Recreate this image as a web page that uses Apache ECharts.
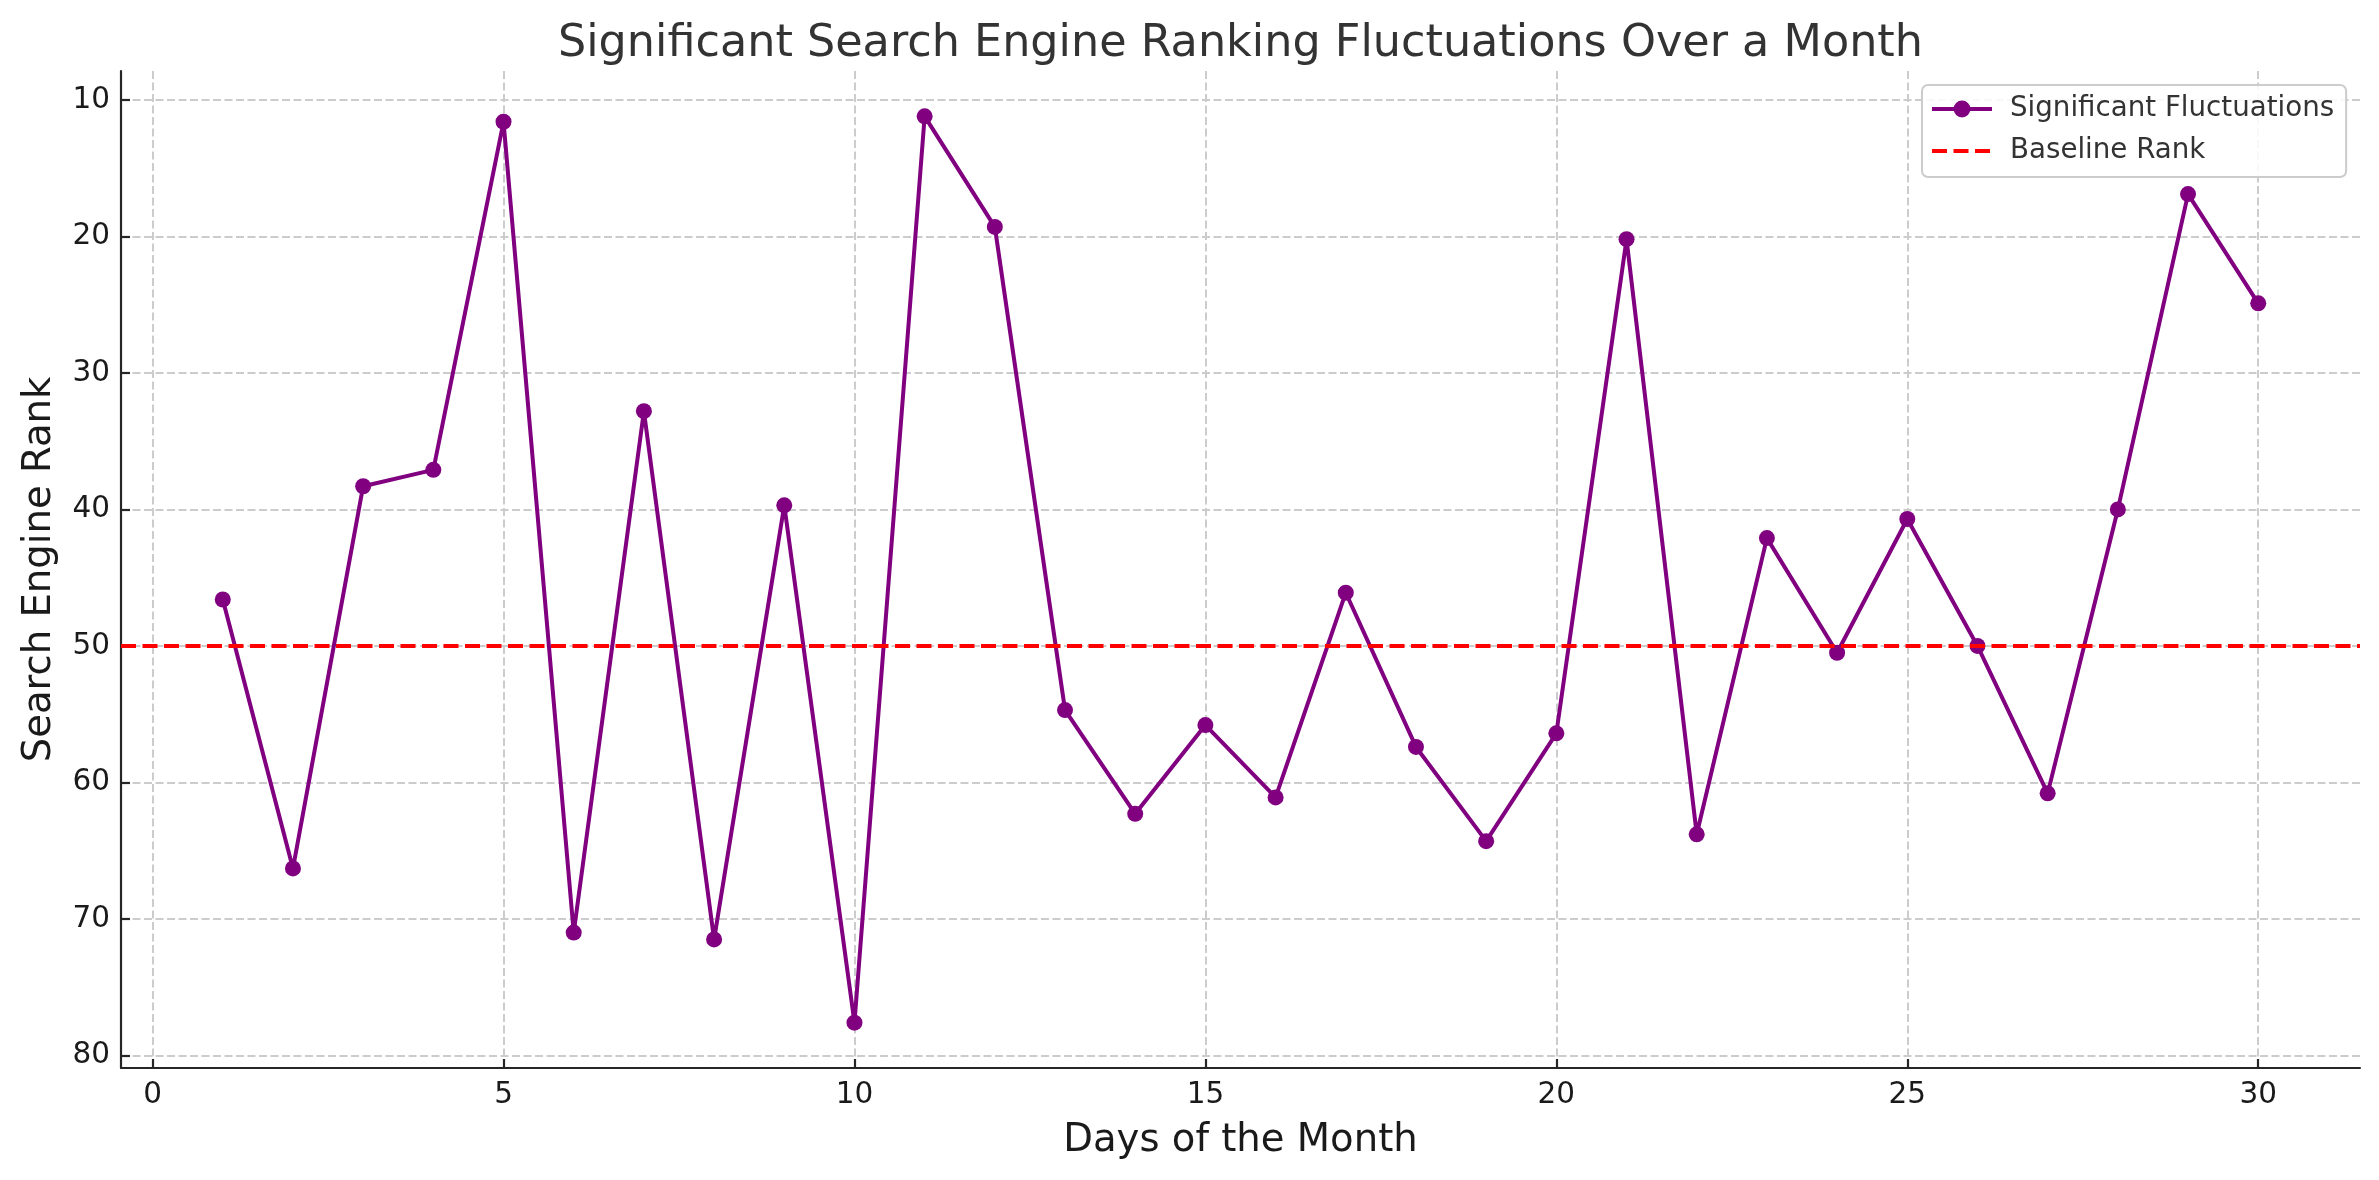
<!DOCTYPE html>
<html>
<head>
<meta charset="utf-8">
<script src="https://cdn.jsdelivr.net/npm/echarts@6/dist/echarts.min.js"></script>
<style>
html,body{margin:0;padding:0;background:#fff;}
#chart{width:2379px;height:1180px;}
</style>
</head>
<body>
<div id="chart"></div>
<script>
// ---- data ----
const days = [1,2,3,4,5,6,7,8,9,10,11,12,13,14,15,16,17,18,19,20,21,22,23,24,25,26,27,28,29,30];
const ranks = [46.6,66.3,38.3,37.1,11.6,71.0,32.8,71.5,39.7,77.6,11.2,19.3,54.7,62.3,55.8,61.1,46.1,57.4,64.3,56.4,20.2,63.8,42.1,50.5,40.7,50.0,60.8,40.0,16.9,24.9];
const baselineRank = [50];
const xTicks = [0,5,10,15,20,25,30];
const yTicks = [10,20,30,40,50,60,70,80];
const seriesNames = ['Significant Fluctuations','Baseline Rank'];
const titleText = 'Significant Search Engine Ranking Fluctuations Over a Month';
const xName = 'Days of the Month';
const yName = 'Search Engine Rank';

// matplotlib-like 5% margins
function lims(arr){const mn=Math.min(...arr),mx=Math.max(...arr),m=(mx-mn)*0.05;return [mn-m,mx+m];}
const [xMin,xMax] = lims(days);
const [yMin,yMax] = lims(ranks);

const FONT = 'DejaVu Sans';
const chart = echarts.init(document.getElementById('chart'), null, {renderer:'canvas'});
const gridLine = {show:true, lineStyle:{color:'#cccccc', width:2, type:[8,3.5]}};
const axisLineStyle = {color:'#262626', width:2.2};

chart.setOption({
  animation:false,
  backgroundColor:'#ffffff',
  graphic:[{
    type:'text', x:1240.5, y:22, z:10,
    style:{text:titleText, font:'44.5px "DejaVu Sans"', fill:'#333333', align:'center', verticalAlign:'top', textAlign:'center', textVerticalAlign:'top'}
  }],
  grid:{left:121, top:71, right:19, bottom:112, containLabel:false},
  legend:{
    orient:'vertical', left:1922, top:85,
    data:[{name:seriesNames[0]},{name:seriesNames[1]}],
    itemWidth:60, itemHeight:21, itemGap:10,
    padding:[8,12,10,8],
    borderColor:'#cccccc', borderWidth:2, borderRadius:6,
    backgroundColor:'rgba(255,255,255,0.85)',
    lineStyle:{width:4},
    textStyle:{fontFamily:FONT, fontSize:27.7, color:'#333333', lineHeight:32, padding:[0,0,0,13]}
  },
  xAxis:{
    type:'value', min:xMin, max:xMax,
    name:xName, nameLocation:'middle', nameGap:53,
    nameTextStyle:{fontFamily:FONT, fontSize:38.6, color:'#1a1a1a'},
    axisLine:{show:true, onZero:false, lineStyle:axisLineStyle},
    axisTick:{show:true, inside:true, length:9, lineStyle:axisLineStyle, customValues:xTicks},
    axisLabel:{show:true, margin:12, fontFamily:FONT, fontSize:29.5, color:'#1a1a1a', customValues:xTicks, showMinLabel:true, showMaxLabel:true},
    splitLine:gridLine
  },
  yAxis:{
    type:'value', inverse:true, min:yMin, max:yMax,
    name:yName, nameLocation:'middle', nameGap:62,
    nameTextStyle:{fontFamily:FONT, fontSize:38.6, color:'#1a1a1a'},
    axisLine:{show:true, onZero:false, lineStyle:axisLineStyle},
    axisTick:{show:true, inside:true, length:9, lineStyle:axisLineStyle, customValues:yTicks},
    axisLabel:{show:true, margin:11, fontFamily:FONT, fontSize:29.5, color:'#1a1a1a', customValues:yTicks},
    splitLine:gridLine
  },
  series:[
    {
      name:seriesNames[0], type:'line',
      data:days.map((d,i)=>[d, ranks[i]]),
      symbol:'circle', symbolSize:16,
      lineStyle:{color:'#800080', width:4},
      itemStyle:{color:'#800080'},
      z:3
    },
    {
      name:seriesNames[1], type:'line', data:[],
      symbol:'none',
      lineStyle:{color:'#ff0000', width:4, type:[15,6.5]},
      itemStyle:{color:'rgba(0,0,0,0)', borderWidth:0},
      markLine:{
        silent:true, symbol:'none', label:{show:false},
        lineStyle:{color:'#ff0000', width:4, type:[15,6.5]},
        data:baselineRank.map(v=>({yAxis:v}))
      },
      z:4
    }
  ]
});
</script>
</body>
</html>
